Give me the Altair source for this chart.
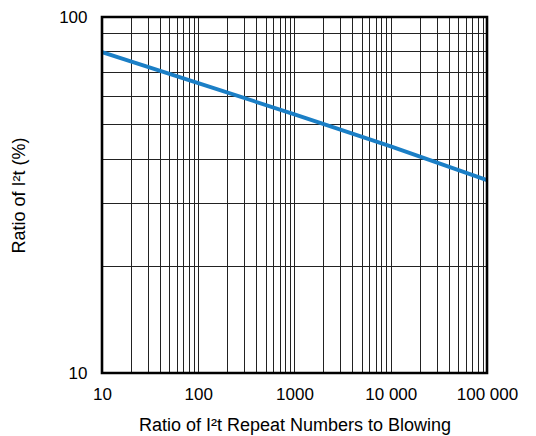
import altair as alt
import pandas as pd

# Data
cycles = [10, 100, 1000, 10000, 100000]
ratio_pct = [79.7, 65.2, 53.3, 43.3, 34.8]

x_major = [10, 100, 1000, 10000, 100000]
x_major_labels = ["10", "100", "1000", "10 000", "100 000"]
y_major = [10, 100]
y_major_labels = ["10", "100"]

x_grid = [m * d for d in [10, 100, 1000, 10000] for m in range(1, 10)] + [100000]
y_grid = [m * 10 for m in range(1, 11)]

df = pd.DataFrame({"x": cycles, "y": ratio_pct})

def label_expr(vals, labels):
    expr = "''"
    for v, l in zip(reversed(vals), reversed(labels)):
        expr = f"datum.value == {v} ? '{l}' : ({expr})"
    return expr

FONT = "Liberation Sans"
W, H = 385, 356

xscale = alt.Scale(type="log", domain=[10, 100000], nice=False)
yscale = alt.Scale(type="log", domain=[10, 100], nice=False)

line = alt.Chart(df).mark_line(color="#1b7fc6", strokeWidth=3.9).encode(
    x=alt.X("x:Q", scale=xscale,
            title="Ratio of I²t Repeat Numbers to Blowing",
            axis=alt.Axis(values=x_grid, labelExpr=label_expr(x_major, x_major_labels),
                          grid=True, gridColor="#222222", gridWidth=1, gridOpacity=1,
                          ticks=False, domain=False, labelPadding=13,
                          labelFontSize=17, labelFont=FONT, labelColor="black",
                          labelOverlap=False, labelBound=False, labelFlush=False,
                          titleFontSize=18, titleFont=FONT, titleFontWeight="normal",
                          titleColor="black", titlePadding=14)),
    y=alt.Y("y:Q", scale=yscale,
            title="Ratio of I²t (%)",
            axis=alt.Axis(values=y_grid, labelExpr=label_expr(y_major, y_major_labels),
                          grid=True, gridColor="#222222", gridWidth=1, gridOpacity=1,
                          ticks=False, domain=False, labelPadding=15,
                          labelFontSize=17, labelFont=FONT, labelColor="black",
                          labelOverlap=False, labelBound=False, labelFlush=False,
                          titleFontSize=18, titleFont=FONT, titleFontWeight="normal",
                          titleColor="black", titlePadding=30)),
)

frame = alt.Chart(pd.DataFrame({"a": [0]})).mark_rect(
    fill=None, stroke="black", strokeWidth=2.6
).encode(
    x=alt.datum(10, scale=xscale), x2=alt.datum(100000),
    y=alt.datum(10, scale=yscale), y2=alt.datum(100),
)

chart = alt.layer(line, frame).properties(
    width=W, height=H,
    autosize=alt.AutoSizeParams(type="none"),
    padding={"left": 102, "top": 17, "right": 49, "bottom": 63},
    background="white",
).configure_view(stroke=None)

chart.save("out.html", embed_options={"renderer": "svg", "actions": False})
